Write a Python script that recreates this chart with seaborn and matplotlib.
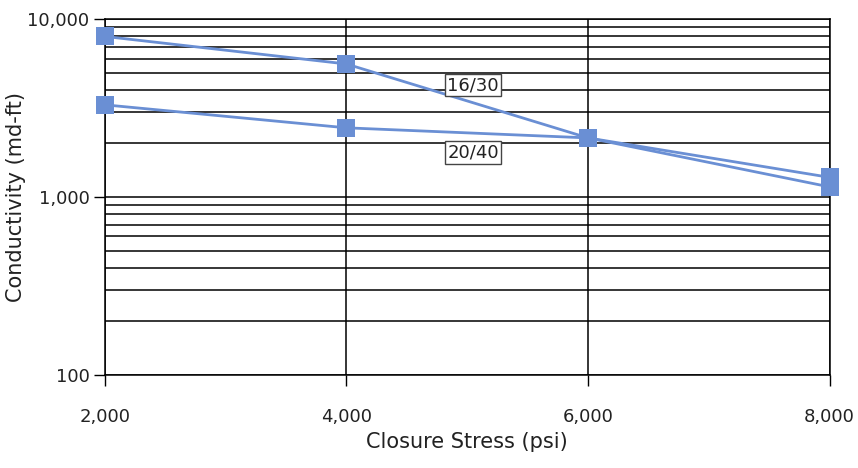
import pandas as pd
import seaborn as sns
import matplotlib.pyplot as plt
from matplotlib.ticker import FixedLocator, FuncFormatter, LogLocator, NullFormatter

# values
stress = [2000, 4000, 6000, 8000]
cond_1630 = [8000, 5600, 2150, 1140]
cond_2040 = [3300, 2450, 2150, 1290]
series_names = ['16/30', '20/40']
label_pos = {'16/30': (5050, 4250), '20/40': (5050, 1780)}

df = pd.DataFrame({
    'stress': stress * 2,
    'cond': cond_1630 + cond_2040,
    'mesh': [series_names[0]] * 4 + [series_names[1]] * 4,
})

sns.set_style('white')
plt.rcParams['font.family'] = ['DejaVu Sans']

fig = plt.figure(figsize=(8.58, 4.68), dpi=100)
ax = fig.add_axes([0.122, 0.199, 0.845, 0.760])

blue = '#6a8fd4'
sns.lineplot(data=df, x='stress', y='cond', hue='mesh', palette=[blue, blue],
             marker='s', markersize=13, markeredgewidth=0, linewidth=2.0,
             legend=False, ax=ax, zorder=5)
for ln in ax.lines:
    ln.set_clip_on(False)

ax.set_yscale('log')
ax.set_ylim(100, 10000)
ax.set_xlim(2000, 8000)
ax.xaxis.set_major_locator(FixedLocator(stress))
ax.xaxis.set_major_formatter(FuncFormatter(lambda v, p: f'{int(v):,}'))
ax.yaxis.set_major_locator(FixedLocator([100, 1000, 10000]))
ax.yaxis.set_major_formatter(FuncFormatter(lambda v, p: f'{int(v):,}'))
ax.yaxis.set_minor_locator(LogLocator(base=10, subs=range(2, 10)))
ax.yaxis.set_minor_formatter(NullFormatter())

ax.grid(True, which='major', axis='both', color='black', linewidth=1.1)
ax.grid(True, which='minor', axis='y', color='black', linewidth=1.1)
for s in ax.spines.values():
    s.set_color('black')
    s.set_linewidth(1.1)

ax.tick_params(axis='both', which='major', direction='out', length=8,
               width=1.0, color='black', labelsize=13, pad=3,
               left=True, bottom=True, labelcolor='#222222')
ax.tick_params(axis='x', pad=16)
ax.tick_params(axis='y', which='minor', length=0, left=False)

ax.set_xlabel('Closure Stress (psi)', fontsize=15, color='#222222')
ax.xaxis.set_label_coords(0.5, -0.16)
ax.set_ylabel('Conductivity (md-ft)', fontsize=15, color='#222222')
ax.yaxis.set_label_coords(-0.108, 0.5)

for name in series_names:
    x, y = label_pos[name]
    ax.text(x, y, name, fontsize=13, ha='center', va='center', zorder=6,
            color='#222222',
            bbox=dict(boxstyle='square,pad=0.12', facecolor='white',
                      edgecolor='#444444', linewidth=1))

fig.savefig('out.png', dpi=100)
